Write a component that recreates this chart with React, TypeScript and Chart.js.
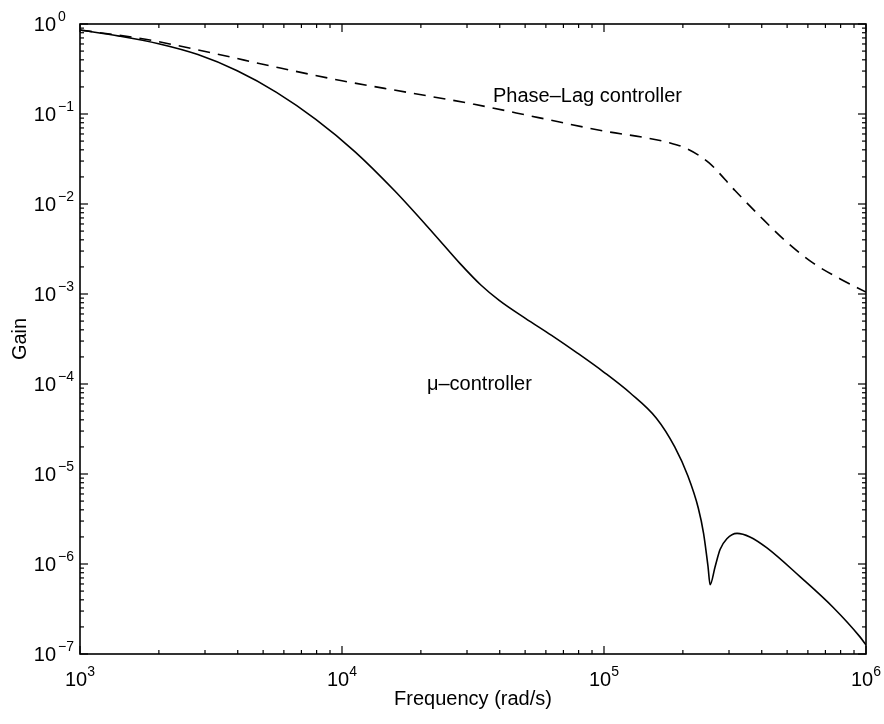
import { useEffect, useRef } from "react";
import { Chart, registerables } from "chart.js";

Chart.register(...registerables);

// μ-controller (solid)
const muFrequency = [
  1000, 1413, 1995, 2818, 3981, 5623, 7943, 11220, 15850, 22390, 28180, 33880,
  39810, 50120, 63100, 79430, 100000, 125900, 158500, 186200, 208900, 229100,
  239900, 249500, 254100, 265500, 277300, 294400, 322100, 360600, 418800, 559800,
  748200, 948400, 1000000,
];
const muGain = [
  0.857, 0.733, 0.603, 0.457, 0.302, 0.174, 0.0871, 0.038, 0.0141, 0.00468, 0.00219,
  0.00126, 8.51e-4, 5.37e-4, 3.47e-4, 2.19e-4, 1.35e-4, 7.94e-5, 4.17e-5, 2.0e-5,
  9.55e-6, 4.17e-6, 2.19e-6, 9.33e-7, 5.89e-7, 9.33e-7, 1.45e-6, 1.91e-6, 2.19e-6,
  2.0e-6, 1.51e-6, 7.24e-7, 3.31e-7, 1.55e-7, 1.26e-7,
];

// Phase-Lag controller (dashed)
const lagFrequency = [
  1000, 1778, 3162, 5623, 10000, 17780, 31620, 56230, 100000, 141300, 177800,
  208900, 251200, 316200, 398100, 501200, 631000, 794300, 1000000,
];
const lagGain = [
  0.857, 0.676, 0.479, 0.331, 0.234, 0.174, 0.129, 0.0912, 0.0646, 0.055, 0.0479,
  0.0407, 0.0288, 0.0141, 0.00708, 0.00372, 0.00219, 0.00148, 0.00105,
];

const xTickExponents = [3, 4, 5, 6];
const yTickExponents = [0, -1, -2, -3, -4, -5, -6, -7];

const xTitle = "Frequency (rad/s)";
const yTitle = "Gain";
const lagLabel = "Phase\u2013Lag controller";
const muLabel = "\u03bc\u2013controller";
const lagLabelAt = { x: 37700, y: 0.136 };
const muLabelAt = { x: 21100, y: 8.5e-5 };

const FONT = "'Liberation Sans', Arial, Helvetica, sans-serif";

const expText = (e: number) => (e < 0 ? "\u2212" + Math.abs(e) : String(e));

const matlabAxes = {
  id: "matlabAxes",
  afterDatasetsDraw(chart: any) {
    const { ctx, chartArea: a, scales } = chart;
    const x = scales.x;
    const y = scales.y;
    ctx.save();
    ctx.strokeStyle = "#000";
    ctx.fillStyle = "#000";
    const seg = (x1: number, y1: number, x2: number, y2: number) => {
      ctx.beginPath();
      ctx.moveTo(x1, y1);
      ctx.lineTo(x2, y2);
      ctx.stroke();
    };
    ctx.lineWidth = 1.2;
    const major = 8;
    const minor = 4;
    // x ticks (bottom + top)
    for (let e = xTickExponents[0]; e <= xTickExponents[xTickExponents.length - 1]; e++) {
      for (let k = 1; k <= 9; k++) {
        const v = k * Math.pow(10, e);
        if (v > x.max * 1.0001) break;
        const px = x.getPixelForValue(v);
        const len = k === 1 ? major : minor;
        seg(px, a.bottom, px, a.bottom - len);
        seg(px, a.top, px, a.top + len);
      }
    }
    // y ticks (left + right)
    for (let e = yTickExponents[yTickExponents.length - 1]; e <= yTickExponents[0]; e++) {
      for (let k = 1; k <= 9; k++) {
        const v = k * Math.pow(10, e);
        if (v > y.max * 1.0001) break;
        const py = y.getPixelForValue(v);
        const len = k === 1 ? major : minor;
        seg(a.left, py, a.left + len, py);
        seg(a.right, py, a.right - len, py);
      }
    }
    // box
    ctx.lineWidth = 1.6;
    ctx.strokeRect(a.left, a.top, a.right - a.left, a.bottom - a.top);

    // tick labels
    const baseFont = "20px " + FONT;
    const supFont = "14px " + FONT;
    ctx.textBaseline = "alphabetic";
    for (const e of xTickExponents) {
      const px = x.getPixelForValue(Math.pow(10, e));
      ctx.font = baseFont;
      const wb = ctx.measureText("10").width;
      ctx.font = supFont;
      const we = ctx.measureText(expText(e)).width;
      const start = px - (wb + we) / 2;
      ctx.font = baseFont;
      ctx.textAlign = "left";
      ctx.fillText("10", start, a.bottom + 32);
      ctx.font = supFont;
      ctx.fillText(expText(e), start + wb, a.bottom + 22);
    }
    for (const e of yTickExponents) {
      const py = y.getPixelForValue(Math.pow(10, e));
      ctx.font = baseFont;
      ctx.textAlign = "right";
      ctx.fillText("10", a.left - 24, py + 7);
      ctx.font = supFont;
      ctx.textAlign = "left";
      ctx.fillText(expText(e), a.left - 22, py - 3);
    }

    // curve labels
    ctx.font = "20px " + FONT;
    ctx.textAlign = "left";
    ctx.fillText(lagLabel, x.getPixelForValue(lagLabelAt.x), y.getPixelForValue(lagLabelAt.y));
    ctx.fillText(muLabel, x.getPixelForValue(muLabelAt.x), y.getPixelForValue(muLabelAt.y));
    ctx.restore();
  },
};

export default function App() {
  const canvasRef = useRef<HTMLCanvasElement | null>(null);

  useEffect(() => {
    if (!canvasRef.current) return;
    const chart = new Chart(canvasRef.current, {
      type: "line",
      data: {
        datasets: [
          {
            label: "\u03bc-controller",
            data: muFrequency.map((f, i) => ({ x: f, y: muGain[i] })),
            borderColor: "#000",
            borderWidth: 1.6,
            pointRadius: 0,
            fill: false,
            cubicInterpolationMode: "monotone",
          },
          {
            label: "Phase-Lag controller",
            data: lagFrequency.map((f, i) => ({ x: f, y: lagGain[i] })),
            borderColor: "#000",
            borderWidth: 1.6,
            borderDash: [12, 8],
            pointRadius: 0,
            fill: false,
            cubicInterpolationMode: "monotone",
          },
        ],
      },
      options: {
        animation: false,
        responsive: false,
        devicePixelRatio: 1,
        layout: { padding: { top: 24, right: 18, left: 0, bottom: 0 } },
        plugins: {
          legend: { display: false },
          tooltip: { enabled: false },
        },
        scales: {
          x: {
            type: "logarithmic",
            min: 1e3,
            max: 1e6,
            ticks: { display: false },
            grid: { display: false },
            border: { display: false },
            title: {
              display: true,
              text: xTitle,
              color: "#000",
              font: { family: FONT, size: 20 },
              padding: { top: 0, bottom: 13 },
            },
            afterFit: (s: any) => {
              s.height = 70;
            },
          },
          y: {
            type: "logarithmic",
            min: 1e-7,
            max: 1,
            ticks: { display: false },
            grid: { display: false },
            border: { display: false },
            title: {
              display: true,
              text: yTitle,
              color: "#000",
              font: { family: FONT, size: 20 },
              padding: { top: 8, bottom: 0 },
            },
            afterFit: (s: any) => {
              s.width = 80;
            },
          },
        },
      } as any,
      plugins: [matlabAxes],
    });
    return () => chart.destroy();
  }, []);

  return (
    <div
      style={{
        position: "absolute",
        left: 0,
        top: 0,
        width: 884,
        height: 724,
        background: "#fff",
      }}
    >
      <canvas ref={canvasRef} width={884} height={724} style={{ display: "block" }} />
    </div>
  );
}
